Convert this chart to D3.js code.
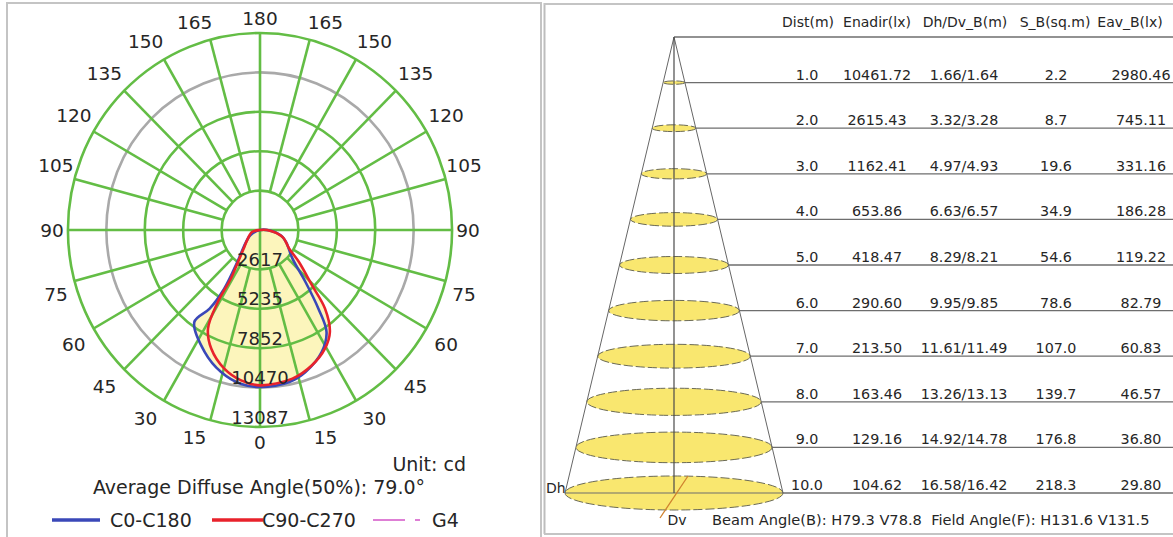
<!DOCTYPE html>
<html lang="en">
<head>
<meta charset="UTF-8">
<title>Polar intensity diagram and beam cone</title>
<script src="https://d3js.org/d3.v7.min.js"></script>
<style>
  body { margin: 0; background: #fff; }
  svg text { font-family: "DejaVu Sans", Verdana, sans-serif; fill: #262626; white-space: pre; }
</style>
</head>
<body>
<svg width="1173" height="537"></svg>
<script>
// ---- polar diagram data (angle from nadir in degrees, negative = left half) ----
const ringValues = [2617, 5235, 7852, 10470, 13087];
const angleTicks = [0, 15, 30, 45, 60, 75, 90, 105, 120, 135, 150, 165, 180];

const c0Angles = [-90, -62, -48, -36, -32, -33.3, -36.2, -24.9, -15.7, -7.4, 0, 11.2, 18.2, 27.4, 33.8, 37.3, 41.9, 49.3, 65.8, 75, 88];
const c0Values = [0, 750, 1350, 2630, 4600, 6250, 7570, 8940, 9800, 10300, 10430, 10290, 9930, 9130, 8150, 6570, 4640, 2920, 1950, 1500, 600];

const c90Angles = [-90, -76, -52, -42, -34.7, -31.6, -31, -28.4, -22.8, -14.8, -7.6, 0, 12.6, 21.5, 29.3, 35.1, 40.3, 44, 51.3, 58, 73, 90];
const c90Values = [0, 565, 1120, 1660, 2720, 3800, 5580, 7450, 8560, 9530, 10060, 10320, 10120, 9660, 9040, 8280, 6850, 5100, 3400, 2350, 1620, 470];

// ---- beam cone table ----
const distances = [1.0, 2.0, 3.0, 4.0, 5.0, 6.0, 7.0, 8.0, 9.0, 10.0];
const enadir = ["10461.72", "2615.43", "1162.41", "653.86", "418.47", "290.60", "213.50", "163.46", "129.16", "104.62"];
const dh = [1.66, 3.32, 4.97, 6.63, 8.29, 9.95, 11.61, 13.26, 14.92, 16.58];
const dv = [1.64, 3.28, 4.93, 6.57, 8.21, 9.85, 11.49, 13.13, 14.78, 16.42];
const sB = ["2.2", "8.7", "19.6", "34.9", "54.6", "78.6", "107.0", "139.7", "176.8", "218.3"];
const eavB = ["2980.46", "745.11", "331.16", "186.28", "119.22", "82.79", "60.83", "46.57", "36.80", "29.80"];
const headers = ["Dist(m)", "Enadir(lx)", "Dh/Dv_B(m)", "S_B(sq.m)", "Eav_B(lx)"];

const svg = d3.select("svg");
const green = "#63bd45";

// ================= left panel: polar curve =================
svg.append("rect").attr("x", 7).attr("y", 3).attr("width", 534).attr("height", 545)
    .attr("fill", "none").attr("stroke", "#c4c4c4").attr("stroke-width", 2);

const cx = 260, cy = 230, kx = 0.975;
const rScale = d3.scaleLinear().domain([0, 13087]).range([0, 197]);
const rad = a => a * Math.PI / 180;
const px = (a, v) => cx + rScale(v) * kx * Math.sin(rad(a));
const py = (a, v) => cy + rScale(v) * Math.cos(rad(a));

const curveLine = d3.line()
    .x(d => px(d[0], d[1]))
    .y(d => py(d[0], d[1]))
    .curve(d3.curveCatmullRomClosed.alpha(0.5));

const c0 = c0Angles.map((a, i) => [a, c0Values[i]]);
const c90 = c90Angles.map((a, i) => [a, c90Values[i]]);

const polar = svg.append("g");
[c0, c90].forEach(pts => {
    polar.append("path").datum(pts).attr("d", curveLine).attr("fill", "#fcf5bc").attr("stroke", "none");
});

// rings
ringValues.forEach((v, i) => {
    polar.append("ellipse")
        .attr("cx", cx).attr("cy", cy)
        .attr("rx", rScale(v) * kx).attr("ry", rScale(v))
        .attr("fill", "none")
        .attr("stroke", i === 3 ? "#a9a9a9" : green)
        .attr("stroke-width", 2.6);
});

// spokes every 15 degrees
d3.range(0, 360, 15).forEach(a => {
    const axis = a % 90 === 0;
    const v0 = axis ? 0 : ringValues[0];
    polar.append("line")
        .attr("x1", px(a, v0)).attr("y1", py(a, v0))
        .attr("x2", px(a, 13087)).attr("y2", py(a, 13087))
        .attr("stroke", green).attr("stroke-width", 2.6);
});

// angle labels
const sgn = v => Math.abs(v) < 1e-6 ? 0 : Math.sign(v);
angleTicks.forEach(t => {
    const sides = (t === 0 || t === 180) ? [1] : [-1, 1];
    sides.forEach(s => {
        const a = rad(t * s);
        const x = cx + 208 * Math.sin(a) + sgn(Math.sin(a)) * 12 * Math.abs(Math.cos(a));
        const y = cy + 212 * Math.cos(a) + sgn(Math.cos(a)) * 10 * Math.abs(Math.sin(a));
        svg.append("text")
            .attr("x", x).attr("y", y)
            .attr("text-anchor", "middle").attr("dominant-baseline", "central")
            .style("font-size", "18.5px")
            .text(t);
    });
});

// curves
polar.append("path").datum(c0).attr("d", curveLine)
    .attr("fill", "none").attr("stroke", "#3a48b8").attr("stroke-width", 2.6);
polar.append("path").datum(c90).attr("d", curveLine)
    .attr("fill", "none").attr("stroke", "#e8222b").attr("stroke-width", 2.6);

// ring value labels
ringValues.forEach(v => {
    svg.append("text")
        .attr("x", cx).attr("y", cy + rScale(v) - 10)
        .attr("text-anchor", "middle").attr("dominant-baseline", "central")
        .style("font-size", "18px")
        .text(v);
});

svg.append("text").attr("x", 466).attr("y", 471).attr("text-anchor", "end")
    .style("font-size", "19px").text("Unit: cd");
svg.append("text").attr("x", 259).attr("y", 494).attr("text-anchor", "middle")
    .style("font-size", "19px").text("Average Diffuse Angle(50%): 79.0°");

// legend
const legend = [
    { name: "C0-C180", color: "#3a48b8", x1: 52, x2: 100, tx: 110, w: 3.5, dash: null },
    { name: "C90-C270", color: "#e8222b", x1: 212, x2: 263, tx: 262, w: 3.5, dash: null },
    { name: "G4", color: "#d455c8", x1: 373, x2: 420, tx: 432, w: 1.5, dash: "32,10,5,60" }
];
legend.forEach(d => {
    svg.append("line").attr("x1", d.x1).attr("x2", d.x2).attr("y1", 520).attr("y2", 520)
        .attr("stroke", d.color).attr("stroke-width", d.w)
        .attr("stroke-dasharray", d.dash);
    svg.append("text").attr("x", d.tx).attr("y", 520).attr("dominant-baseline", "central")
        .style("font-size", "19px").text(d.name);
});

// ================= right panel: beam cone =================
svg.append("line").attr("x1", 544.5).attr("x2", 544.5).attr("y1", 3).attr("y2", 534)
    .attr("stroke", "#bdbdbd").attr("stroke-width", 2);
svg.append("line").attr("x1", 544).attr("x2", 1173).attr("y1", 4).attr("y2", 4)
    .attr("stroke", "#c4c4c4").attr("stroke-width", 2);
svg.append("line").attr("x1", 544).attr("x2", 1173).attr("y1", 534).attr("y2", 534)
    .attr("stroke", "#c4c4c4").attr("stroke-width", 2);

const apexX = 674;
const yScale = d3.scaleLinear().domain([0, 10]).range([37, 493]);
const hScale = d3.scaleLinear().domain([0, 8.29]).range([0, 109]);
const vScale = d3.scaleLinear().domain([0, 8.21]).range([0, 17]);
const last = distances.length - 1;
const cone = svg.append("g");

// row lines
cone.append("line").attr("x1", apexX).attr("x2", 1173).attr("y1", yScale(0)).attr("y2", yScale(0))
    .attr("stroke", "#6e6e6e").attr("stroke-width", 1.3);
distances.forEach((d, i) => {
    const x1 = i === last ? apexX - hScale(dh[i] / 2) : apexX + hScale(dh[i] / 2);
    cone.append("line").attr("x1", x1).attr("x2", 1173)
        .attr("y1", yScale(d)).attr("y2", yScale(d))
        .attr("stroke", "#6e6e6e").attr("stroke-width", 1.3);
});

// ellipses
distances.forEach((d, i) => {
    cone.append("ellipse")
        .attr("cx", apexX).attr("cy", yScale(d))
        .attr("rx", hScale(dh[i] / 2)).attr("ry", vScale(dv[i] / 2))
        .attr("fill", "#f9e76f")
        .attr("stroke", "#6b6a55").attr("stroke-width", 1)
        .attr("stroke-dasharray", "9,3");
});
// bottom diameter line redrawn over the last ellipse
cone.append("line").attr("x1", apexX - hScale(dh[last] / 2)).attr("x2", apexX + hScale(dh[last] / 2))
    .attr("y1", yScale(distances[last])).attr("y2", yScale(distances[last]))
    .attr("stroke", "#6e6e6e").attr("stroke-width", 1.2);

// cone sides and axis
[-1, 1].forEach(s => {
    cone.append("line").attr("x1", apexX).attr("y1", yScale(0))
        .attr("x2", apexX + s * hScale(dh[last] / 2)).attr("y2", yScale(distances[last]))
        .attr("stroke", "#666").attr("stroke-width", 1);
});
cone.append("line").attr("x1", apexX).attr("x2", apexX)
    .attr("y1", yScale(0)).attr("y2", yScale(distances[last]))
    .attr("stroke", "#4a4a4a").attr("stroke-width", 1.2);
cone.append("line")
    .attr("x1", apexX - 14).attr("y1", yScale(distances[last]) + 25)
    .attr("x2", apexX + 14).attr("y2", yScale(distances[last]) - 17)
    .attr("stroke", "#d0822e").attr("stroke-width", 1.3);

// table text
const colX = [807, 877, 964, 1056, 1141];
const headX = [808, 877, 965, 1055, 1130];
headers.forEach((h, j) => {
    svg.append("text").attr("x", headX[j]).attr("y", 27).attr("text-anchor", "middle")
        .style("font-size", "14px").text(h);
});
distances.forEach((d, i) => {
    const cells = [d.toFixed(1), enadir[i], dh[i].toFixed(2) + "/" + dv[i].toFixed(2), sB[i], eavB[i]];
    cells.forEach((c, j) => {
        svg.append("text").attr("x", colX[j]).attr("y", yScale(d) - 3)
            .attr("text-anchor", "middle").style("font-size", "14.3px").text(c);
    });
});

svg.append("text").attr("x", 546).attr("y", 493).style("font-size", "14px").text("Dh");
svg.append("text").attr("x", 677).attr("y", 525).attr("text-anchor", "middle")
    .style("font-size", "14px").text("Dv");
svg.append("text").attr("x", 712).attr("y", 525).style("font-size", "14.6px")
    .text("Beam Angle(B): H79.3 V78.8  Field Angle(F): H131.6 V131.5");
</script>
</body>
</html>
